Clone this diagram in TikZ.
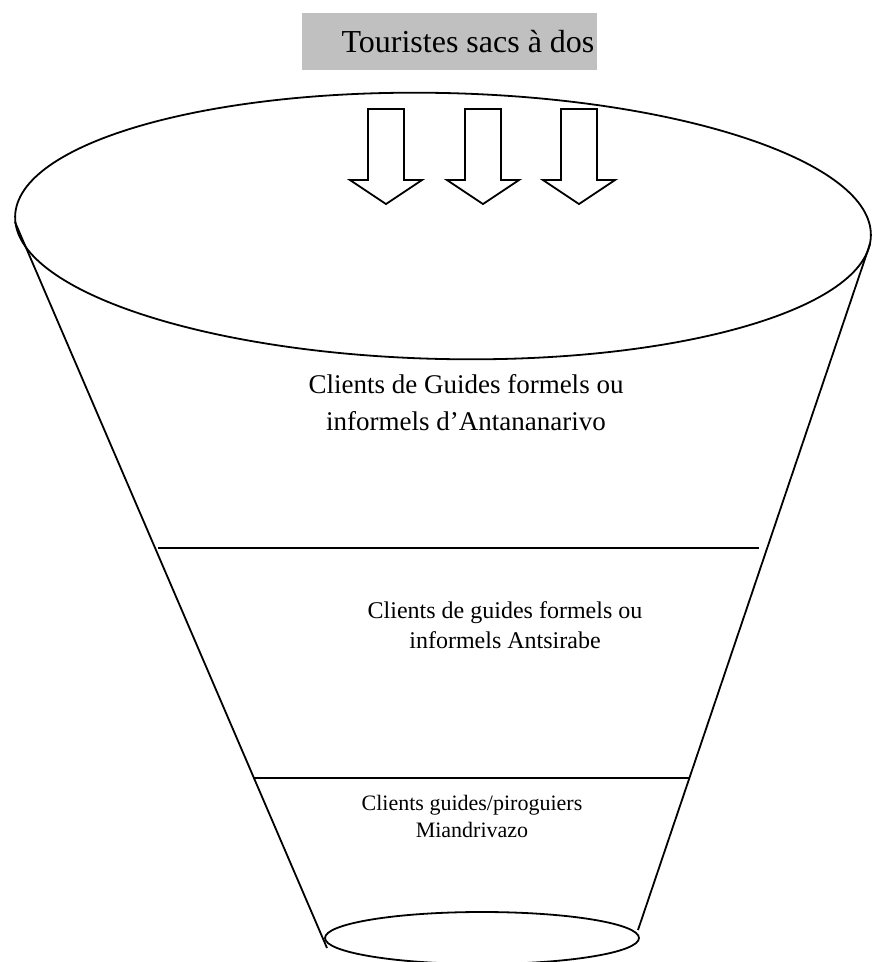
\documentclass[tikz,border=0pt]{standalone}
\usepackage{fontspec}
\setmainfont{Liberation Serif}

\definecolor{boxgray}{RGB}{192,192,192}
\tikzstyle{tblock} = [rectangle, fill=boxgray, minimum width=295pt, minimum height=57pt, inner sep=1pt, font=\fontsize{32}{38}\selectfont]
\tikzstyle{ttext} = [align=center, inner sep=0pt]
\tikzstyle{line} = [line width=1.8pt]
\tikzstyle{bigarrow} = [line width=1.8pt, fill=white, line join=miter]

\begin{document}
\begin{tikzpicture}[x=1pt, y=-1pt]
    \useasboundingbox (0,0) rectangle (871,962);
    \node (node1) [tblock] at (449.5,41.5) {\hspace*{37pt}Touristes sacs à dos};
    % funnel top
    \draw [line, rotate around={-1.3:(443,226)}] (443,226) ellipse [x radius=428, y radius=133];
    \foreach \x in {386,483,579}
        \draw [bigarrow] (\x-18,109) -- (\x+18,109) -- (\x+18,180) -- (\x+36,180) -- (\x,204) -- (\x-36,180) -- (\x-18,180) -- cycle;
    % funnel sides
    \coordinate (tl) at (15,222);
    \coordinate (bl) at (327,948);
    \coordinate (tr) at (870,244);
    \coordinate (br) at (638,930);
    \draw [line] (tl) -- (bl);
    \draw [line] (tr) -- (br);
    % levels
    \coordinate (a1) at (158,548);
    \coordinate (a2) at (759,548);
    \coordinate (b1) at (253,778);
    \coordinate (b2) at (690,778);
    \draw [line] (a1) -- (a2);
    \draw [line] (b1) -- (b2);
    \draw [line] (482,938) ellipse [x radius=157, y radius=26];
    \node (node2) [ttext, font=\fontsize{27}{37}\selectfont] at (466,403) {Clients de Guides formels ou\\informels d’Antananarivo};
    \node (node3) [ttext, font=\fontsize{24}{30}\selectfont] at (505,625) {Clients de guides formels ou\\informels Antsirabe};
    \node (node4) [ttext, font=\fontsize{22}{27}\selectfont] at (472,816) {Clients guides/piroguiers\\Miandrivazo};
\end{tikzpicture}
\end{document}
